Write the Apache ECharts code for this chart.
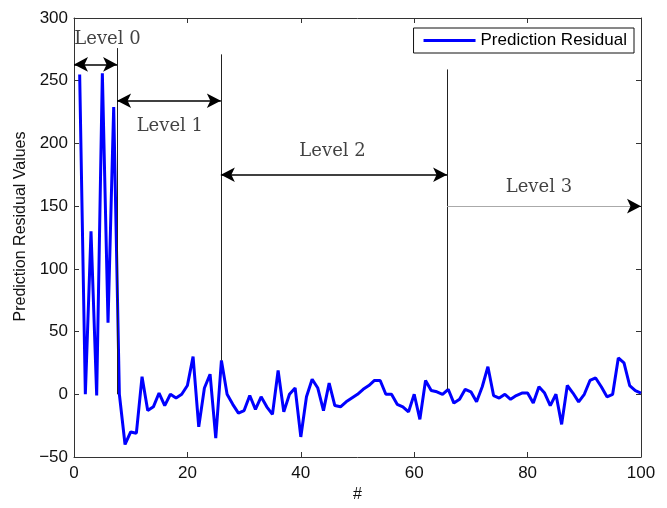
<!DOCTYPE html>
<html>
<head>
<meta charset="utf-8">
<script src="https://cdn.jsdelivr.net/npm/echarts@6/dist/echarts.min.js"></script>
<style>
  html, body { margin: 0; padding: 0; background: #fff; }
  #chart { width: 667px; height: 508px; }
</style>
</head>
<body>
<div id="chart"></div>
<script>
// residual per sample, sample index 1..100
const residual = [
  255, 0, 130, -1, 256, 57, 229, 0, -40, -30,
  -31, 14, -13, -10, 1, -9, 0, -3, 0, 7,
  30, -26, 5, 16, -35, 27, 0, -8, -15, -13,
  -1, -12, -2, -10, -16, 19, -14, 0, 5, -34,
  -2, 12, 5, -13, 9, -9, -10, -6, -3, 0,
  4, 7, 11, 11, 0, 0, -8, -10, -14, 0,
  -20, 11, 3, 2, 0, 4, -7, -4, 4, 2,
  -6, 6, 22, -1, -3, 0, -4, -1, 1, 1,
  -7, 6, 1, -9, 0, -24, 7, 1, -6, 0,
  11, 13, 6, -2, 0, 29, 25, 7, 3, 1
];
const sampleIdx = residual.map((_, i) => i + 1);

// level boundaries (x), arrow heights, separator line tops/bottoms
const levelNames = ['Level 0', 'Level 1', 'Level 2', 'Level 3'];
const levelBounds = [0, 7.6, 25.9, 65.8, 100];
const arrowY = [263, 234, 175, 150];
const labelPos = [[5.9, 283], [16.9, 214], [45.6, 194], [82, 165]];
const sepTop = [276, 271, 259];
const sepBottom = [0, 27, 4];

const chart = echarts.init(document.getElementById('chart'));

const lineData = sampleIdx.map((x, i) => [x, residual[i]]);

const markData = [];
// separators
for (let i = 0; i < sepTop.length; i++) {
  markData.push([
    { coord: [levelBounds[i + 1], sepTop[i]], symbol: 'none', lineStyle: { color: '#222', width: 1, type: 'solid' } },
    { coord: [levelBounds[i + 1], sepBottom[i]], symbol: 'none' }
  ]);
}
// arrows (levels 0-2 double headed)
for (let i = 0; i < 3; i++) {
  markData.push([
    {
      coord: [levelBounds[i], arrowY[i]],
      symbol: 'arrow',
      symbolSize: [11, 14],
      lineStyle: { color: '#000', width: 1.5, type: 'solid' }
    },
    { coord: [levelBounds[i + 1], arrowY[i]], symbol: 'arrow', symbolSize: [11, 14] }
  ]);
}
// level 3: thin grey line, black head at the end
markData.push([
  { coord: [levelBounds[3], arrowY[3]], symbol: 'none', lineStyle: { color: '#aaa', width: 1, type: 'solid' } },
  { coord: [levelBounds[4], arrowY[3]], symbol: 'none' }
]);
markData.push([
  { coord: [levelBounds[4] - 1, arrowY[3]], symbol: 'none', lineStyle: { color: '#000', width: 1, type: 'solid' } },
  { coord: [levelBounds[4], arrowY[3]], symbol: 'arrow', symbolSize: [11, 14] }
]);

const tickStyle = { show: true, inside: true, length: 5, lineStyle: { color: '#333' } };
const lineStyleAxis = { show: true, onZero: false, lineStyle: { color: '#333', width: 1 } };
const labelFont = { fontFamily: 'Liberation Sans', fontSize: 17, color: '#111' };
const fmt = v => String(v).replace('-', '\u2212');

const option = {
  animation: false,
  backgroundColor: '#fff',
  grid: { left: 74, right: 26, top: 18, bottom: 43 },
  legend: {
    data: ['Prediction Residual'],
    right: 33,
    top: 28,
    itemWidth: 52,
    itemHeight: 3,
    itemGap: 8,
    padding: [4, 7, 4, 10],
    borderColor: '#111',
    borderWidth: 1,
    borderRadius: 0,
    icon: 'rect',
    textStyle: { fontFamily: 'Liberation Sans', fontSize: 17, color: '#000' }
  },
  xAxis: [
    {
      type: 'value', min: 0, max: 100, interval: 20,
      name: '#', nameLocation: 'middle', nameGap: 30,
      nameTextStyle: { fontFamily: 'Liberation Sans', fontSize: 16, color: '#111' },
      axisLine: lineStyleAxis, axisTick: tickStyle,
      axisLabel: Object.assign({ margin: 8, formatter: fmt }, labelFont),
      splitLine: { show: false }
    },
    {
      type: 'value', min: 0, max: 100, interval: 20, position: 'top',
      axisLine: lineStyleAxis, axisTick: tickStyle,
      axisLabel: { show: false }, splitLine: { show: false }
    }
  ],
  yAxis: [
    {
      type: 'value', min: -50, max: 300, interval: 50,
      name: 'Prediction Residual Values', nameLocation: 'middle', nameGap: 44,
      nameTextStyle: { fontFamily: 'Liberation Sans', fontSize: 16, color: '#111', padding: [0, 0, 0, 22] },
      axisLine: lineStyleAxis, axisTick: tickStyle,
      axisLabel: Object.assign({ margin: 6, formatter: fmt }, labelFont),
      splitLine: { show: false }
    },
    {
      type: 'value', min: -50, max: 300, interval: 50, position: 'right',
      axisLine: lineStyleAxis, axisTick: tickStyle,
      axisLabel: { show: false }, splitLine: { show: false }
    }
  ],
  series: [
    {
      name: 'Prediction Residual',
      type: 'line',
      data: lineData,
      showSymbol: false,
      symbol: 'none',
      color: '#0000ff',
      lineStyle: { color: '#0000ff', width: 3 },
      z: 3,
      markLine: {
        silent: true,
        animation: false,
        label: { show: false },
        emphasis: { disabled: true },
        itemStyle: { color: '#000' },
        data: markData
      }
    },
    {
      name: 'levels',
      type: 'scatter',
      data: labelPos.map((p, i) => ({ value: p, name: levelNames[i] })),
      symbolSize: 0,
      silent: true,
      label: {
        show: true,
        position: 'inside',
        formatter: '{b}',
        fontFamily: 'DejaVu Serif',
        fontSize: 18,
        color: '#111'
      }
    }
  ]
};

chart.setOption(option);
</script>
</body>
</html>
